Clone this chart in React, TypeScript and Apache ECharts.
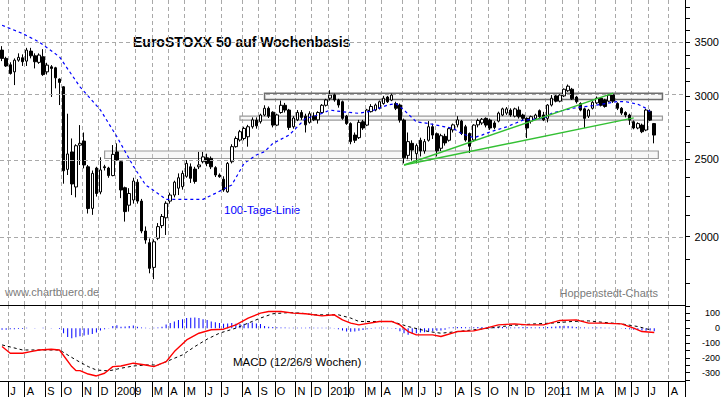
import React, { useEffect, useRef } from "react";
import * as echarts from "echarts";

// ---------------- data ----------------
const FIRST_WEEK_UTC = Date.UTC(2008, 5, 23); // Monday of the first weekly bar
const WEEK_SLOTS = 167; // weekly slots on the time axis (bars + empty room to the right)
const MONTH_LETTERS = ["J", "F", "M", "A", "M", "J", "J", "A", "S", "O", "N", "D"];

const PRICE_RANGE = [1643, 3954];
const PRICE_TICK_LABELS = [2000, 2500, 3000, 3500];
const PRICE_MINOR_TICKS = [1750, 1875, 2000, 2125, 2250, 2375, 2500, 2625, 2750, 2875, 3000, 3125, 3250, 3375, 3500, 3625, 3750, 3875];

const MACD_RANGE = [-356, 156];
const MACD_TICK_LABELS = [-300, -200, -100, 0, 100];
const MACD_MINOR_TICKS = [-350, -300, -250, -200, -150, -100, -50, 0, 50, 100, 150];

// weekly candles: [open, close, low, high]
const WEEKLY_OHLC: number[][] = [
  [3423, 3342, 3316, 3462], [3342, 3270, 3261, 3358], [3281, 3200, 3190, 3305], [3215, 3325, 3095, 3342],
  [3325, 3352, 3310, 3391], [3348, 3310, 3270, 3381], [3316, 3423, 3270, 3445], [3413, 3367, 3342, 3445],
  [3367, 3310, 3247, 3391], [3304, 3374, 3290, 3391], [3358, 3190, 3178, 3432], [3215, 3278, 3190, 3300],
  [3262, 3247, 2991, 3278], [3253, 3160, 3066, 3262], [3149, 3119, 2922, 3155], [3080, 2418, 2330, 3085],
  [2428, 2538, 2389, 2850], [2553, 2328, 2255, 2654], [2308, 2599, 2240, 2610], [2603, 2617, 2459, 2758],
  [2634, 2459, 2435, 2700], [2446, 2169, 2138, 2459], [2170, 2400, 2130, 2420], [2437, 2265, 2245, 2446],
  [2275, 2424, 2260, 2514], [2446, 2440, 2420, 2460], [2437, 2385, 2370, 2446], [2385, 2535, 2380, 2604],
  [2553, 2494, 2490, 2617], [2482, 2288, 2235, 2490], [2303, 2150, 2089, 2310], [2190, 2265, 2150, 2300],
  [2223, 2348, 2200, 2370], [2340, 2216, 2200, 2360], [2216, 2033, 2020, 2230], [2033, 1981, 1960, 2060],
  [1966, 1826, 1800, 1990], [1831, 1971, 1770, 1985], [1991, 2059, 1980, 2080], [2065, 2120, 2050, 2135],
  [2112, 2202, 2010, 2215], [2216, 2255, 2200, 2270], [2255, 2340, 2240, 2350], [2300, 2370, 2255, 2400],
  [2310, 2400, 2290, 2420], [2380, 2470, 2370, 2494], [2446, 2366, 2335, 2470], [2430, 2345, 2330, 2446],
  [2446, 2459, 2430, 2553], [2482, 2517, 2470, 2553], [2510, 2470, 2450, 2540], [2506, 2446, 2430, 2520],
  [2440, 2389, 2375, 2450], [2389, 2377, 2370, 2400], [2360, 2288, 2276, 2380], [2276, 2470, 2270, 2480],
  [2482, 2592, 2470, 2610], [2592, 2654, 2585, 2670], [2642, 2706, 2630, 2720], [2654, 2732, 2640, 2745],
  [2667, 2745, 2592, 2760], [2745, 2800, 2730, 2820], [2798, 2752, 2730, 2820], [2785, 2839, 2770, 2850],
  [2839, 2895, 2830, 2920], [2895, 2830, 2815, 2910], [2862, 2758, 2740, 2870], [2758, 2840, 2750, 2850],
  [2860, 2920, 2850, 2960], [2920, 2880, 2860, 2940], [2880, 2740, 2720, 2890], [2745, 2815, 2730, 2830],
  [2800, 2860, 2790, 2880], [2860, 2820, 2800, 2880], [2830, 2760, 2700, 2850], [2780, 2850, 2770, 2870],
  [2830, 2800, 2790, 2860], [2800, 2860, 2770, 2870], [2860, 2920, 2850, 2930], [2920, 2965, 2910, 2975],
  [2980, 3007, 2960, 3050], [3010, 2965, 2950, 3020], [2964, 2922, 2900, 2975], [2950, 2812, 2800, 2960],
  [2830, 2770, 2760, 2840], [2770, 2630, 2610, 2780], [2680, 2640, 2620, 2700], [2660, 2780, 2650, 2800],
  [2785, 2735, 2720, 2800], [2758, 2880, 2750, 2890], [2867, 2910, 2860, 2930], [2880, 2922, 2870, 2935],
  [2895, 2950, 2885, 2960], [2935, 2980, 2925, 3000], [2990, 2950, 2940, 3000], [2964, 3007, 2955, 3020],
  [2935, 2895, 2880, 2950], [2922, 2798, 2778, 2935], [2798, 2510, 2470, 2810], [2528, 2630, 2500, 2700],
  [2617, 2567, 2490, 2640], [2540, 2600, 2470, 2615], [2640, 2560, 2520, 2660], [2560, 2630, 2540, 2650],
  [2640, 2745, 2630, 2790], [2745, 2680, 2650, 2770], [2690, 2561, 2520, 2700], [2580, 2675, 2560, 2690],
  [2670, 2620, 2600, 2690], [2640, 2730, 2630, 2740], [2720, 2760, 2700, 2770], [2760, 2800, 2740, 2830],
  [2790, 2692, 2680, 2800], [2745, 2642, 2630, 2760], [2692, 2595, 2545, 2700], [2642, 2758, 2630, 2765],
  [2760, 2795, 2740, 2810], [2775, 2805, 2760, 2815], [2812, 2758, 2740, 2820], [2798, 2735, 2720, 2810],
  [2775, 2740, 2725, 2790], [2790, 2855, 2780, 2867], [2839, 2890, 2830, 2900], [2855, 2890, 2840, 2905],
  [2880, 2839, 2825, 2895], [2830, 2890, 2820, 2900], [2880, 2825, 2810, 2910], [2839, 2812, 2795, 2850],
  [2812, 2735, 2657, 2820], [2790, 2826, 2770, 2835], [2812, 2839, 2800, 2850], [2875, 2826, 2815, 2885],
  [2840, 2800, 2790, 2865], [2812, 2922, 2780, 2930], [2922, 2980, 2910, 3007], [3000, 2955, 2945, 3010],
  [2955, 3007, 2945, 3015], [3000, 3058, 2990, 3065], [3045, 3085, 3035, 3100], [3058, 2975, 2965, 3070],
  [2990, 2950, 2935, 3000], [2935, 2880, 2870, 2945], [2890, 2812, 2735, 2900], [2830, 2880, 2815, 2890],
  [2895, 2945, 2885, 2955], [2940, 2980, 2930, 2995], [2980, 2920, 2910, 2990], [2965, 2910, 2900, 2975],
  [2955, 3007, 2945, 3015], [3010, 2955, 2940, 3020], [2935, 2895, 2880, 2945], [2895, 2855, 2840, 2905],
  [2860, 2839, 2820, 2870], [2839, 2798, 2760, 2850], [2785, 2735, 2725, 2795], [2735, 2770, 2725, 2780],
  [2758, 2706, 2695, 2770], [2719, 2880, 2710, 2890], [2870, 2798, 2790, 2885], [2770, 2680, 2617, 2775],
];

// 100-day line readings: [week index, value]
const MA100_POINTS: number[][] = [
  [0, 3677], [5, 3590], [9, 3505], [14, 3357], [19, 3079], [24, 2880], [28, 2667], [32, 2451],
  [35, 2321], [36, 2303], [40, 2227], [44, 2227], [49, 2227], [52, 2266], [56, 2321], [59, 2470],
  [62, 2531], [64, 2555], [66, 2616], [70, 2680], [74, 2812], [77, 2839], [80, 2880], [83, 2866],
  [87, 2853], [90, 2872], [94, 2922], [96, 2935], [98, 2880], [101, 2784], [104, 2771], [108, 2744],
  [110, 2732], [112, 2692], [115, 2659], [117, 2680], [119, 2705], [123, 2744], [125, 2771], [127, 2798],
  [132, 2812], [134, 2854], [139, 2895], [144, 2917], [150, 2951], [152, 2951], [155, 2929], [157, 2895],
  [158, 2866],
];

// MACD line and signal line readings: [week index, value]
const MACD_POINTS: number[][] = [
  [0, -124], [2, -169], [5, -169], [7, -158], [9, -147], [12, -142], [14, -147], [17, -259], [18, -286],
  [19, -286], [21, -309], [23, -322], [25, -304], [27, -259], [29, -255], [32, -236], [35, -248], [37, -259],
  [40, -226], [42, -158], [45, -79], [48, -34], [51, -11], [54, -7], [57, 22], [60, 68], [63, 101], [65, 112],
  [68, 112], [71, 101], [74, 97], [78, 83], [81, 90], [83, 56], [85, 34], [87, 22], [92, 45], [95, 45],
  [97, 22], [99, -23], [101, -45], [105, -45], [107, -56], [111, -23], [115, -18], [118, 0], [121, 22],
  [125, 29], [128, 22], [132, 22], [136, 52], [140, 56], [143, 34], [146, 34], [151, 29], [154, 0],
  [156, -23], [159, -29],
];
const SIGNAL_POINTS: number[][] = [
  [0, -113], [5, -147], [9, -147], [14, -147], [18, -214], [21, -259], [23, -282], [26, -288], [29, -270],
  [32, -255], [35, -248], [38, -248], [40, -226], [44, -180], [47, -124], [50, -74], [53, -34], [57, 0],
  [60, 34], [63, 68], [66, 97], [70, 105], [73, 101], [76, 90], [79, 90], [82, 90], [85, 68], [87, 45],
  [95, 45], [99, 11], [104, -23], [107, -34], [111, -23], [115, -11], [120, 4], [124, 18], [130, 29],
  [134, 34], [139, 45], [143, 49], [147, 38], [151, 29], [155, 11], [158, -11],
];
const MACD_HISTOGRAM: number[] = [
  -10, -10, -8, -8, -6, -6,
  2, 0, -2, 0, 2, 0, -2, 0, -5,
  -35, -60, -68, -62, -55, -50, -45, -40, -30,
  -15, -8, -3,
  15, 20, 10, 12, 15, 18, 10, 5,
  3, -3, 2, 5,
  10, 25, 35, 45, 55, 60, 68, 70, 72, 68, 60, 55, 45, 40, 35, 30, 32, 35, 30, 28,
  30, 35, 38, 32, 28,
  15, 10, 8, 6, 5, 4, 3, 2,
  3, 2, 3, 4, 3, 2, 2, 3, 2, -3, -8,
  -15, -22, -25, -22, -18, -12, -8, -4,
  2, 3, 3, 2, -2, -5,
  -20, -35, -45, -40, -35, -30, -28, -25, -20, -18, -15, -10,
  5, 6, 8, 8, 6, 5, 6, 8, 7, 6, 5, 6, 8, 7, 6, 5, 4, 6, 8, 7, 6, 5, 6,
  6, 8, 10, 12, 15, 16, 15, 12, 8,
  5, 4, 3, 4, 5, 4, 3, 2, 1, 0, -2,
  -5, -8, -10, -12, -15, -18, -15, -20,
];

// green trend lines: [[week, price], [week, price]]
const TREND_UPPER: number[][] = [[98, 2459], [149, 3024]];
const TREND_LOWER: number[][] = [[98, 2459], [154, 2816]];

// grey zones: [fromWeek, toWeek, low, high]
const ZONES: number[][] = [
  [64, 161, 2970, 3024],
  [58, 161, 2798, 2830],
  [25, 160, 2505, 2560],
];

// ---------------- option ----------------
const FONT = '"Liberation Sans", Arial, Helvetica, sans-serif';
const GRID_DASH = { color: "#a9a9a9", width: 1, type: [4, 3] as number[] };

function buildOption() {
  const weeks: string[] = [];
  for (let i = 0; i < WEEK_SLOTS; i++) {
    weeks.push(new Date(FIRST_WEEK_UTC + i * 7 * 86400000).toISOString().slice(0, 10));
  }
  const monthTick = (i: number) => {
    const day = +weeks[i].slice(8, 10);
    return day >= 4 && day <= 10;
  };
  const monthLabel = (i: number) => monthTick(i) && weeks[i].slice(5, 7) !== "02";
  const fmtMonth = (v: string) => {
    const m = +v.slice(5, 7) - 1;
    return m === 0 ? v.slice(0, 4) : MONTH_LETTERS[m];
  };
  const ln = Math.log;

  const xBase = {
    type: "category",
    data: weeks,
    boundaryGap: true,
    axisLine: { show: true, onZero: false, lineStyle: { color: "#000", width: 1 } },
  };

  const zoneStyles = [
    { borderColor: "#6e6e6e", borderWidth: 1.5 },
    { borderColor: "#9a9a9a", borderWidth: 1.2 },
    { borderColor: "#9a9a9a", borderWidth: 1.2 },
  ];

  return {
    animation: false,
    backgroundColor: "#ffffff",
    textStyle: { fontFamily: FONT },
    grid: [
      { left: -1, right: 38, top: 0, height: 305 },
      { left: -1, right: 38, top: 305, height: 76 },
    ],
    xAxis: [
      {
        ...xBase,
        gridIndex: 0,
        axisTick: { show: false },
        axisLabel: { show: false },
        splitLine: { show: true, interval: (i: number) => monthTick(i), lineStyle: GRID_DASH },
      },
      {
        ...xBase,
        gridIndex: 1,
        axisTick: { show: true, interval: (i: number) => monthTick(i), length: 16, lineStyle: { color: "#000" } },
        axisLabel: {
          show: true,
          interval: (i: number) => monthLabel(i),
          formatter: fmtMonth,
          align: "left",
          margin: 4,
          fontSize: 11,
          color: "#000",
          fontFamily: FONT,
        },
        splitLine: { show: true, interval: (i: number) => monthTick(i), lineStyle: GRID_DASH },
      },
    ],
    yAxis: [
      {
        gridIndex: 0,
        type: "value",
        position: "right",
        min: ln(PRICE_RANGE[0]),
        max: ln(PRICE_RANGE[1]),
        axisLine: { show: true, lineStyle: { color: "#000" } },
        axisTick: { show: true, length: 5, customValues: PRICE_TICK_LABELS.map(ln), lineStyle: { color: "#000" } },
        axisLabel: {
          show: true,
          customValues: PRICE_TICK_LABELS.map(ln),
          formatter: (v: number) => String(Math.round(Math.exp(v) / 50) * 50),
          align: "right",
          margin: 34,
          fontSize: 11,
          color: "#000",
          fontFamily: FONT,
        },
        splitLine: { show: false },
      },
      {
        gridIndex: 0,
        type: "value",
        position: "right",
        min: ln(PRICE_RANGE[0]),
        max: ln(PRICE_RANGE[1]),
        axisLine: { show: false },
        axisTick: { show: true, length: 5, customValues: PRICE_MINOR_TICKS.map(ln), lineStyle: { color: "#000" } },
        axisLabel: { show: false },
        splitLine: { show: false },
      },
      {
        gridIndex: 1,
        type: "value",
        position: "right",
        min: MACD_RANGE[0],
        max: MACD_RANGE[1],
        axisLine: { show: true, lineStyle: { color: "#000" } },
        axisTick: { show: true, length: 5, customValues: MACD_MINOR_TICKS, lineStyle: { color: "#000" } },
        axisLabel: {
          show: true,
          customValues: MACD_TICK_LABELS,
          align: "right",
          margin: 35,
          fontSize: 9,
          color: "#000",
          fontFamily: FONT,
        },
        splitLine: { show: false },
      },
    ],
    series: [
      {
        type: "candlestick",
        xAxisIndex: 0,
        yAxisIndex: 0,
        barWidth: 3,
        data: WEEKLY_OHLC.map(([o, c, l, h]) => [ln(o), ln(c), ln(l), ln(h)]),
        itemStyle: { color: "#ffffff", color0: "#000000", borderColor: "#000000", borderColor0: "#000000", borderWidth: 1 },
        markLine: {
          silent: true,
          symbol: ["none", "none"],
          label: { show: false },
          lineStyle: GRID_DASH,
          data: PRICE_TICK_LABELS.map((p) => ({ yAxis: ln(p) })),
        },
        markArea: {
          silent: true,
          label: { show: false },
          data: ZONES.map(([a, b, lo, hi], k) => [
            { xAxis: a, yAxis: ln(hi), itemStyle: { color: "rgba(225,225,225,0.25)", ...zoneStyles[k] } },
            { xAxis: b, yAxis: ln(lo) },
          ]),
        },
        z: 3,
      },
      {
        type: "line",
        xAxisIndex: 0,
        yAxisIndex: 0,
        data: MA100_POINTS.map(([i, v]) => [i, ln(v)]),
        showSymbol: false,
        lineStyle: { color: "#0000ff", width: 1.2, type: [3, 3] },
        z: 4,
      },
      ...[TREND_UPPER, TREND_LOWER].map((pts) => ({
        type: "line",
        xAxisIndex: 0,
        yAxisIndex: 0,
        data: pts.map(([i, v]) => [i, ln(v)]),
        showSymbol: false,
        lineStyle: { color: "#33c033", width: 1.5 },
        z: 5,
      })),
      {
        type: "bar",
        xAxisIndex: 1,
        yAxisIndex: 2,
        data: MACD_HISTOGRAM,
        barWidth: 1,
        itemStyle: { color: "#0000ff" },
        z: 2,
      },
      {
        type: "line",
        xAxisIndex: 1,
        yAxisIndex: 2,
        data: SIGNAL_POINTS,
        showSymbol: false,
        lineStyle: { color: "#000000", width: 1, type: [3, 3] },
        z: 3,
      },
      {
        type: "line",
        xAxisIndex: 1,
        yAxisIndex: 2,
        data: MACD_POINTS,
        showSymbol: false,
        lineStyle: { color: "#ff0000", width: 1.4 },
        z: 4,
      },
    ],
    graphic: [
      {
        type: "text",
        x: 133,
        y: 42,
        style: { text: "EuroSTOXX 50 auf Wochenbasis", fontSize: 14, fontWeight: "bold", fontFamily: FONT, fill: "#000", align: "left", verticalAlign: "middle" },
      },
      {
        type: "text",
        x: 5,
        y: 292,
        style: { text: "www.chartbuero.de", fontSize: 11, fontFamily: FONT, fill: "#7a7a7a", align: "left", verticalAlign: "middle" },
      },
      {
        type: "text",
        x: 658,
        y: 292.5,
        style: { text: "Hoppenstedt-Charts", fontSize: 11, fontFamily: FONT, fill: "#7a7a7a", align: "right", verticalAlign: "middle" },
      },
      {
        type: "text",
        x: 224,
        y: 210,
        style: { text: "100-Tage-Linie", fontSize: 11.5, fontFamily: FONT, fill: "#0000ff", align: "left", verticalAlign: "middle" },
      },
      {
        type: "text",
        x: 233,
        y: 362,
        style: { text: "MACD (12/26/9 Wochen)", fontSize: 11.5, fontFamily: FONT, fill: "#000", align: "left", verticalAlign: "middle" },
      },
    ],
  };
}

export default function App() {
  const ref = useRef<HTMLDivElement>(null);
  useEffect(() => {
    if (!ref.current) return;
    const chart = echarts.init(ref.current, undefined, { renderer: "svg" });
    chart.setOption(buildOption() as any);
    return () => chart.dispose();
  }, []);
  return (
    <div
      ref={ref}
      style={{ position: "fixed", left: 0, top: 0, width: 723, height: 397, background: "#fff" }}
    />
  );
}
